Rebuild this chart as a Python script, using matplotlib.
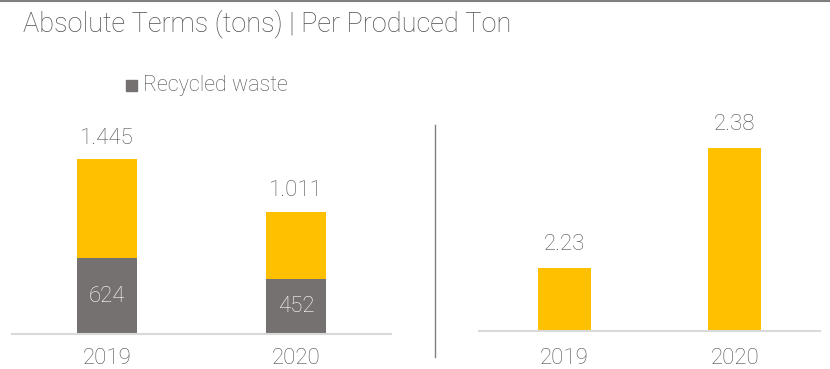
import matplotlib
matplotlib.use("Agg")
import matplotlib.pyplot as plt
from matplotlib.lines import Line2D
from matplotlib.patches import Rectangle

plt.rcParams['font.family'] = ['Roboto', 'DejaVu Sans']

# Data
years = ["2019", "2020"]
total_tons = [1445, 1011]
recycled_tons = [624, 452]
total_labels = ["1.445", "1.011"]
per_ton = [2.23, 2.38]
per_ton_labels = ["2.23", "2.38"]

YELLOW = "#FFC000"
GRAY = "#767171"
TEXT = "#505050"
AXIS = "#D9D9D9"

W, H = 830, 369
fig = plt.figure(figsize=(W / 100, H / 100), dpi=100)


def fig_box(x0, x1, y_top, y_bottom):
    return [x0 / W, 1 - y_bottom / H, (x1 - x0) / W, (y_bottom - y_top) / H]


LBL = 16

# Left: absolute terms, stacked bars
axL = fig.add_axes(fig_box(12, 391, 100, 334))
xs = range(len(years))
other = [t - r for t, r in zip(total_tons, recycled_tons)]
axL.bar(xs, recycled_tons, width=0.316, color=GRAY, zorder=2)
axL.bar(xs, other, bottom=recycled_tons, width=0.316, color=YELLOW, zorder=2)
axL.set_xlim(-0.5, 1.5)
axL.set_ylim(0, 234 / 0.1211)
for x, t, lab, r in zip(xs, total_tons, total_labels, recycled_tons):
    axL.annotate(lab, (x, t), xytext=(0, 7.5), textcoords="offset points",
                 ha="center", va="bottom", fontsize=LBL, color=TEXT, fontweight="light")
    axL.text(x, r / 2, str(r), ha="center", va="center", fontsize=LBL,
             color="white", fontweight="light")

# Right: per produced ton
axR = fig.add_axes(fig_box(479, 820, 100, 331))
axR.bar(xs, per_ton, width=0.31, color=YELLOW, zorder=2)
axR.set_xlim(-0.5, 1.5)
ymin = 2.151
axR.set_ylim(ymin, ymin + 231 / 800)
for x, v, lab in zip(xs, per_ton, per_ton_labels):
    axR.annotate(lab, (x, v), xytext=(0, 9), textcoords="offset points",
                 ha="center", va="bottom", fontsize=LBL, color=TEXT, fontweight="light")

for ax, pad in ((axL, 10), (axR, 12)):
    for s in ("top", "right", "left"):
        ax.spines[s].set_visible(False)
    ax.spines["bottom"].set_color(AXIS)
    ax.spines["bottom"].set_linewidth(1.5)
    ax.set_yticks([])
    ax.set_xticks(list(xs))
    ax.set_xticklabels(years, fontsize=LBL, color=TEXT, fontweight="light")
    ax.tick_params(axis="x", length=0, pad=pad)
    ax.patch.set_alpha(0)

# Title and top rule
fig.add_artist(Line2D([0, 1], [1 - 1 / H, 1 - 1 / H], color="#7F7F7F", lw=1.5))
fig.text(23 / W, 1 - 32 / H, "Absolute Terms (tons) | Per Produced Ton",
         fontsize=19.5, color=TEXT, va="baseline", ha="left", fontweight="light")

# Legend
fig.add_artist(Rectangle((126 / W, 1 - 91 / H), 11 / W, 11 / H, color=GRAY,
                         transform=fig.transFigure))
fig.text(143 / W, 1 - 91 / H, "Recycled waste", fontsize=15.5, color=TEXT,
         va="baseline", ha="left", fontweight="light")

# Separator between the two panels
fig.add_artist(Line2D([435 / W, 435 / W], [1 - 125 / H, 1 - 357 / H],
                      color="#7F7F7F", lw=1))

fig.savefig("out.png", dpi=100, facecolor="white")
